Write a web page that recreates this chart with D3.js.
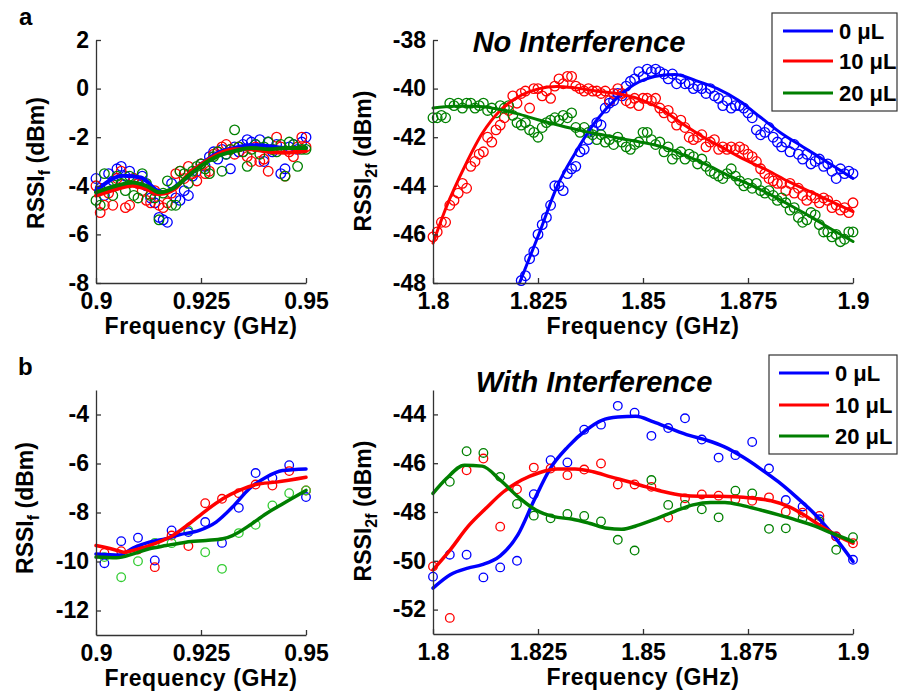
<!DOCTYPE html>
<html><head><meta charset="utf-8">
<script src="https://cdn.jsdelivr.net/npm/d3@7"></script>
<style>
body{margin:0;background:#fff}
svg text{font-family:"Liberation Sans",Arial,sans-serif;font-weight:bold;fill:#000}
</style>
</head><body><svg id="c" width="899" height="693"></svg>
<script>
// ---------- categories / labels ----------
const seriesNames = ["0 μL","10 μL","20 μL"];
const lineColors = ["#0000ff","#ff0000","#007f00"];

// ---------- tick labels ----------
const ticksXf  = [0.9, 0.925, 0.95];
const ticksX2f = [1.8, 1.825, 1.85, 1.875, 1.9];
const ticksYa1 = [2, 0, -2, -4, -6, -8];
const ticksYa2 = [-38, -40, -42, -44, -46, -48];
const ticksYb1 = [-4, -6, -8, -10, -12];
const ticksYb2 = [-44, -46, -48, -50, -52];

// ---------- panel a, left: RSSI_f, sweep 0.900..0.950 GHz, 1 MHz ----------
const sweepA1Start = 0.900, sweepA1Step = 0.001;
const a1Blue  = [-3.7,-4.1,-4.4,-3.5,-3.8,-3.3,-3.2,-3.6,-3.4,-3.7,-3.9,-3.6,-4.0,-4.5,-4.7,-5.3,-5.4,-5.5,-3.9,-4.5,-4.6,-4.2,-4.4,-3.6,-3.4,-3.1,-3.2,-2.8,-2.6,-2.9,-2.5,-2.7,-3.3,-2.4,-2.6,-2.3,-2.1,-2.2,-2.3,-2.1,-3.0,-2.2,-2.6,-2.3,-3.5,-3.3,-2.4,-2.3,-2.5,-2.2,-2.0];
const a1Red   = [-4.0,-5.1,-4.8,-4.3,-4.8,-3.7,-3.4,-4.9,-4.8,-3.7,-3.9,-4.2,-4.6,-4.7,-4.2,-4.8,-4.9,-4.7,-4.3,-3.5,-3.4,-3.7,-3.2,-3.5,-3.8,-3.1,-3.5,-3.4,-2.7,-2.6,-2.4,-2.3,-2.5,-2.7,-2.4,-2.6,-2.8,-3.0,-2.4,-3.0,-2.9,-3.4,-2.5,-2.0,-2.4,-3.6,-2.6,-2.8,-2.4,-2.0,-2.4];
const a1Green = [-4.6,-4.8,-3.5,-4.0,-4.4,-3.6,-3.9,-4.2,-3.6,-4.4,-4.5,-3.5,-3.9,-4.4,-4.5,-5.4,-4.3,-3.8,-4.8,-4.8,-3.4,-3.5,-3.9,-3.4,-3.2,-3.1,-3.3,-3.5,-2.8,-2.6,-3.4,-2.7,-2.5,-1.7,-2.4,-2.6,-3.2,-2.5,-2.3,-2.7,-2.4,-2.2,-2.5,-2.6,-2.3,-3.6,-2.2,-2.3,-3.2,-2.5,-2.5];
// fitted curves (knots)
const a1FitBlueF  = [0.9,0.9065,0.9107,0.9147,0.9163,0.9202,0.925,0.929,0.933,0.937,0.9413,0.9452,0.95];
const a1FitBlue   = [-4.2,-3.59,-3.66,-4.2,-4.27,-3.86,-3.12,-2.64,-2.44,-2.33,-2.37,-2.44,-2.44];
const a1FitRedF   = [0.9,0.9048,0.9087,0.912,0.9152,0.9187,0.922,0.925,0.929,0.933,0.937,0.9413,0.9452,0.95];
const a1FitRed    = [-4.4,-4.14,-4.0,-4.14,-4.34,-4.14,-3.52,-3.12,-2.7,-2.5,-2.5,-2.61,-2.64,-2.57];
const a1FitGreenF = [0.9,0.9048,0.9087,0.912,0.9152,0.9187,0.922,0.925,0.929,0.933,0.937,0.9413,0.9452,0.95];
const a1FitGreen  = [-4.27,-4.0,-3.86,-4.0,-4.27,-4.07,-3.59,-3.18,-2.78,-2.57,-2.44,-2.5,-2.44,-2.44];

// ---------- panel a, right: RSSI_2f, sweep 1.800..1.900 GHz, 1 MHz ----------
const sweepA2Start = 1.800, sweepA2Step = 0.001;
const a2BlueStartIndex = 21; // blue points visible from 1.821 GHz
const a2Blue = [-47.9,-47.7,-47.0,-46.7,-46.0,-45.6,-45.3,-44.8,-44.0,-44.0,-44.2,-43.5,-43.3,-43.2,-42.6,-42.5,-42.1,-41.7,-41.4,-41.5,-40.8,-40.6,-40.5,-40.2,-40.3,-39.9,-39.7,-39.6,-39.3,-39.5,-39.2,-39.3,-39.2,-39.3,-39.4,-39.6,-39.4,-39.8,-39.6,-39.8,-39.8,-40.0,-39.9,-40.0,-40.2,-40.0,-40.3,-40.4,-40.7,-40.5,-40.8,-40.7,-40.7,-40.8,-41.0,-41.2,-41.7,-41.9,-41.8,-41.6,-42.0,-42.2,-42.4,-42.2,-42.6,-42.3,-42.7,-42.9,-42.7,-43.1,-43.0,-42.9,-43.2,-43.1,-43.4,-43.7,-43.3,-43.5,-43.4,-43.5];
const a2Red = [-46.1,-45.9,-45.5,-45.5,-44.8,-44.6,-44.3,-43.9,-44.1,-43.2,-43.0,-42.7,-42.6,-42.0,-42.2,-41.7,-41.5,-41.2,-40.9,-40.3,-40.6,-40.2,-40.1,-40.8,-40.0,-40.0,-40.3,-40.1,-40.4,-39.9,-39.6,-39.8,-39.5,-39.5,-39.9,-40.0,-40.1,-40.0,-40.1,-40.1,-40.2,-40.1,-40.5,-40.2,-40.0,-40.2,-40.5,-40.6,-40.4,-40.7,-40.4,-40.4,-40.5,-40.4,-40.8,-41.0,-40.9,-41.2,-41.5,-41.3,-41.6,-42.0,-42.1,-42.0,-41.9,-42.4,-42.2,-42.1,-42.5,-42.4,-42.5,-42.4,-42.5,-42.4,-42.5,-42.7,-42.8,-43.0,-43.3,-43.5,-43.7,-43.8,-43.9,-43.9,-44.2,-43.9,-44.3,-44.1,-44.4,-44.6,-44.4,-44.5,-44.7,-44.5,-44.6,-44.9,-44.8,-45.0,-44.9,-45.1,-44.7];
const a2Green = [-41.2,-41.2,-41.1,-41.2,-40.6,-40.7,-40.6,-40.8,-40.6,-40.6,-40.8,-40.7,-40.6,-40.9,-40.8,-41.0,-40.7,-40.8,-40.7,-41.1,-41.4,-41.5,-41.4,-41.7,-41.8,-42.0,-41.6,-41.4,-41.3,-41.2,-41.3,-41.1,-41.2,-41.0,-41.6,-41.8,-41.6,-41.8,-41.9,-42.1,-41.9,-42.2,-42.1,-42.3,-42.0,-42.2,-42.4,-42.5,-42.3,-42.2,-41.8,-41.8,-42.1,-42.3,-42.2,-42.6,-42.4,-42.9,-42.7,-42.6,-42.9,-42.7,-42.8,-43.1,-42.9,-43.2,-43.4,-43.5,-43.6,-43.7,-43.5,-43.3,-43.6,-43.8,-44.0,-43.9,-44.1,-43.9,-44.2,-44.3,-44.2,-44.4,-44.6,-44.5,-44.7,-45.0,-44.9,-45.3,-45.5,-45.4,-45.1,-45.2,-45.6,-45.9,-45.9,-46.1,-46.0,-46.3,-46.2,-45.9,-45.9];
const a2FitBlueF  = [1.8206,1.8253,1.8295,1.8338,1.8389,1.844,1.849,1.8542,1.8576,1.8626,1.8677,1.8728,1.8779,1.883,1.8881,1.8932,1.9];
const a2FitBlue   = [-48.0,-45.95,-44.04,-42.67,-41.31,-40.35,-39.73,-39.46,-39.42,-39.67,-40.0,-40.49,-41.17,-41.85,-42.4,-42.95,-43.7];
const a2FitRedF   = [1.8,1.8032,1.8075,1.8117,1.816,1.8202,1.8253,1.8295,1.8338,1.8389,1.844,1.849,1.8542,1.8593,1.8643,1.8694,1.8745,1.8796,1.8847,1.8898,1.8949,1.9];
const a2FitRed    = [-46.36,-44.86,-43.22,-41.85,-40.9,-40.35,-40.0,-39.91,-39.97,-40.1,-40.21,-40.42,-40.83,-41.44,-41.99,-42.47,-42.95,-43.36,-43.83,-44.24,-44.65,-45.06];
const a2FitGreenF = [1.8,1.805,1.81,1.815,1.82,1.825,1.83,1.835,1.84,1.845,1.85,1.855,1.86,1.865,1.87,1.875,1.88,1.885,1.89,1.895,1.9];
const a2FitGreen  = [-40.8,-40.73,-40.73,-40.83,-41.03,-41.28,-41.51,-41.72,-41.89,-42.06,-42.22,-42.42,-42.75,-43.12,-43.55,-43.92,-44.33,-44.8,-45.28,-45.8,-46.29];

// ---------- panel b, left: RSSI_f, sweep 0.902..0.950 GHz, 4 MHz ----------
const sweepB1Start = 0.902, sweepB1Step = 0.004;
const b1Blue  = [-10.07,-9.17,-9.03,-9.96,-8.73,-8.8,-8.39,-9.24,-7.81,-6.39,-6.59,-6.07,-7.37];
const b1Red   = [-9.65,-9.58,-9.51,-10.23,-8.94,-9.37,-7.62,-7.44,-7.21,-6.86,-6.9,-6.31,-7.1];
const b1Green = [-9.82,-10.64,-9.99,-9.24,-9.25,-8.73,-9.62,-10.3,-8.84,-8.5,-7.71,-7.21,-7.1];
const b1FitBlueF  = [0.9,0.9057,0.9089,0.9127,0.9167,0.9198,0.9246,0.9286,0.9325,0.9365,0.9405,0.9444,0.95];
const b1FitBlue   = [-9.69,-9.73,-9.44,-9.21,-9.07,-8.91,-8.73,-8.39,-7.78,-7.03,-6.56,-6.29,-6.22];
const b1FitRedF   = [0.9,0.9057,0.9065,0.9103,0.9143,0.9183,0.9222,0.9262,0.9302,0.9341,0.9381,0.9429,0.95];
const b1FitRed    = [-9.35,-9.58,-9.62,-9.48,-9.25,-8.94,-8.46,-7.92,-7.44,-7.1,-6.86,-6.76,-6.56];
const b1FitGreenF = [0.9,0.9049,0.9089,0.9127,0.9167,0.9214,0.9262,0.9302,0.9325,0.9365,0.9405,0.9444,0.95];
const b1FitGreen  = [-9.82,-9.85,-9.69,-9.48,-9.35,-9.21,-9.14,-9.07,-8.94,-8.53,-8.05,-7.65,-7.1];

// ---------- panel b, right: RSSI_2f, sweep 1.800..1.900 GHz, 4 MHz ----------
const sweepB2Start = 1.800, sweepB2Step = 0.004;
const b2Blue  = [-50.65,-49.75,-49.75,-50.68,-50.27,-50.0,-47.27,-45.88,-45.97,-44.63,-44.42,-43.65,-43.93,-44.88,-44.56,-44.16,-45.03,-45.77,-45.67,-45.13,-46.22,-47.51,-47.78,-48.3,-49.0,-49.96];
const b2Red   = [-50.23,-52.34,-46.29,-45.81,-48.6,-47.07,-46.18,-46.22,-46.49,-46.26,-46.01,-46.87,-46.87,-46.97,-48.23,-47.44,-47.28,-47.33,-47.48,-47.54,-47.4,-47.99,-48.03,-48.16,-49.0,-49.28];
const b2GreenStartIndex = 1;
const b2Green = [-46.76,-45.51,-45.58,-46.56,-47.67,-48.15,-48.26,-48.08,-48.16,-48.39,-49.14,-49.58,-46.69,-47.71,-47.71,-47.89,-48.22,-47.13,-47.24,-48.69,-48.67,-48.26,-48.39,-49.55,-49.03];
const b2FitBlueF  = [1.8,1.8041,1.8083,1.8117,1.816,1.8202,1.8241,1.8279,1.8321,1.8364,1.8402,1.844,1.8483,1.8525,1.8567,1.861,1.8652,1.8694,1.8737,1.8779,1.8822,1.8864,1.8907,1.8949,1.9];
const b2FitBlue   = [-51.12,-50.57,-50.3,-50.16,-49.8,-48.94,-47.51,-46.22,-45.33,-44.65,-44.24,-44.11,-44.08,-44.31,-44.59,-44.86,-45.06,-45.33,-45.74,-46.22,-46.76,-47.37,-48.05,-48.87,-50.03];
const b2FitRedF   = [1.8,1.8041,1.8083,1.8126,1.8168,1.8211,1.8253,1.8296,1.8338,1.8381,1.8423,1.8466,1.8508,1.8550,1.8593,1.8635,1.8678,1.872,1.8763,1.8805,1.8847,1.889,1.8932,1.8966,1.9];
const b2FitRed    = [-50.37,-49.55,-48.6,-47.85,-47.17,-46.69,-46.39,-46.24,-46.24,-46.35,-46.56,-46.76,-46.97,-47.17,-47.31,-47.35,-47.35,-47.37,-47.44,-47.54,-47.78,-48.19,-48.67,-49.0,-49.28];
const b2FitGreenF = [1.8,1.8032,1.8075,1.8117,1.816,1.8202,1.8245,1.8287,1.833,1.8372,1.8415,1.8449,1.8491,1.8534,1.8577,1.8619,1.8661,1.8695,1.8738,1.878,1.8823,1.8865,1.8908,1.8950,1.9];
const b2FitGreen  = [-47.24,-46.63,-46.08,-46.12,-46.69,-47.37,-47.92,-48.19,-48.29,-48.46,-48.67,-48.71,-48.53,-48.26,-47.96,-47.71,-47.61,-47.61,-47.74,-47.92,-48.12,-48.33,-48.57,-48.87,-49.21];

// ---------- drawing ----------
const svg = d3.select("#c");
const FONT = 23;

function pts(start, step, vals, offset) {
  offset = offset || 0;
  return vals.map((v, i) => ({f: start + step * (i + offset), v}));
}
function zipFit(fs, vs) { return fs.map((f, i) => ({f, v: vs[i]})); }

function panel(cfg) {
  const x = d3.scaleLinear().domain(cfg.xd).range([cfg.x0, cfg.x1]);
  const y = d3.scaleLinear().domain(cfg.yd).range([cfg.y1, cfg.y0]);
  const g = svg.append("g");

  cfg.scatter.forEach(s => {
    g.append("g").selectAll("circle").data(s.data).join("circle")
      .attr("cx", d => x(d.f)).attr("cy", d => y(d.v)).attr("r", cfg.r)
      .attr("fill", "none").attr("stroke", s.color).attr("stroke-width", 1.3);
  });
  const line = d3.line().x(d => x(d.f)).y(d => y(d.v)).curve(d3.curveMonotoneX);
  cfg.fits.forEach(s => {
    g.append("path").datum(s.data).attr("d", line)
      .attr("fill", "none").attr("stroke", s.color).attr("stroke-width", cfg.lw)
      .attr("stroke-linejoin", "round").attr("stroke-linecap", "round");
  });

  const ax = g.append("g").attr("transform", `translate(0,${cfg.y1})`)
    .call(d3.axisBottom(x).tickValues(cfg.xt).tickFormat(d => String(d))
      .tickSizeInner(-5).tickSizeOuter(0).tickPadding(10));
  const ay = g.append("g").attr("transform", `translate(${cfg.x0},0)`)
    .call(d3.axisLeft(y).tickValues(cfg.yt).tickFormat(d => (d < 0 ? "-" : "") + Math.abs(d))
      .tickSizeInner(-5).tickSizeOuter(0).tickPadding(7));
  [ax, ay].forEach(a => {
    a.select(".domain").attr("stroke", "#333").attr("stroke-width", 1.3);
    a.selectAll(".tick line").attr("stroke", "#333").attr("stroke-width", 1.3);
    a.selectAll(".tick text").attr("font-size", FONT).attr("font-weight", "bold")
      .attr("font-family", '"Liberation Sans",Arial,sans-serif').attr("fill", "#000");
  });

  g.append("text").attr("x", (cfg.x0 + cfg.x1) / 2).attr("y", cfg.y1 + 51)
    .attr("text-anchor", "middle").attr("font-size", 23).attr("letter-spacing", 0.6)
    .text("Frequency (GHz)");
  const yl = g.append("text").attr("transform", `translate(${cfg.ylx},${cfg.yly}) rotate(-90)`)
    .attr("text-anchor", "middle").attr("font-size", 23);
  yl.append("tspan").text("RSSI");
  yl.append("tspan").attr("font-size", 16).attr("dy", 6).text(cfg.sub);
  yl.append("tspan").attr("dy", -6).text(" (dBm)");

  if (cfg.title) {
    g.append("text").attr("x", cfg.title.x).attr("y", cfg.title.y)
      .attr("text-anchor", "middle").attr("font-size", 29).attr("font-style", "italic")
      .text(cfg.title.text);
  }
  if (cfg.legend) {
    const L = cfg.legend;
    g.append("rect").attr("x", L.x).attr("y", L.y).attr("width", L.w).attr("height", L.h)
      .attr("fill", "#fff").attr("stroke", "#333").attr("stroke-width", 1.2);
    seriesNames.forEach((n, i) => {
      const yy = L.ys[i];
      g.append("line").attr("x1", L.lx0).attr("x2", L.lx1).attr("y1", yy).attr("y2", yy)
        .attr("stroke", lineColors[i]).attr("stroke-width", 3);
      g.append("text").attr("x", L.tx).attr("y", yy + 8).attr("font-size", 22).text(n);
    });
  }
}

panel({
  x0: 96, x1: 306, y0: 40, y1: 283, xd: [0.9, 0.95], yd: [-8, 2],
  xt: ticksXf, yt: ticksYa1, r: 4.8, lw: 4,
  ylx: 44, yly: 163, sub: "f",
  scatter: [
    {data: pts(sweepA1Start, sweepA1Step, a1Blue), color: "#0000ff"},
    {data: pts(sweepA1Start, sweepA1Step, a1Red), color: "#ff0000"},
    {data: pts(sweepA1Start, sweepA1Step, a1Green), color: "#008000"}
  ],
  fits: [
    {data: zipFit(a1FitBlueF, a1FitBlue), color: lineColors[0]},
    {data: zipFit(a1FitRedF, a1FitRed), color: lineColors[1]},
    {data: zipFit(a1FitGreenF, a1FitGreen), color: lineColors[2]}
  ]
});

panel({
  x0: 433, x1: 853, y0: 40, y1: 283, xd: [1.8, 1.9], yd: [-48, -38],
  xt: ticksX2f, yt: ticksYa2, r: 4.8, lw: 3,
  ylx: 371, yly: 161, sub: "2f",
  title: {text: "No Interference", x: 579, y: 52},
  legend: {x: 772, y: 13, w: 125, h: 98, ys: [31, 61, 93], lx0: 783, lx1: 833, tx: 839},
  scatter: [
    {data: pts(sweepA2Start, sweepA2Step, a2Blue, a2BlueStartIndex), color: "#0000ff"},
    {data: pts(sweepA2Start, sweepA2Step, a2Red), color: "#ff0000"},
    {data: pts(sweepA2Start, sweepA2Step, a2Green), color: "#008000"}
  ],
  fits: [
    {data: zipFit(a2FitBlueF, a2FitBlue), color: lineColors[0]},
    {data: zipFit(a2FitRedF, a2FitRed), color: lineColors[1]},
    {data: zipFit(a2FitGreenF, a2FitGreen), color: lineColors[2]}
  ]
});

panel({
  x0: 96, x1: 306, y0: 390, y1: 635, xd: [0.9, 0.95], yd: [-13, -3],
  xt: ticksXf, yt: ticksYb1, r: 4.3, lw: 3.5,
  ylx: 33, yly: 508, sub: "f",
  scatter: [
    {data: pts(sweepB1Start, sweepB1Step, b1Blue), color: "#0000ff"},
    {data: pts(sweepB1Start, sweepB1Step, b1Red), color: "#ff0000"},
    {data: pts(sweepB1Start, sweepB1Step, b1Green), color: "#33cc33"}
  ],
  fits: [
    {data: zipFit(b1FitBlueF, b1FitBlue), color: lineColors[0]},
    {data: zipFit(b1FitRedF, b1FitRed), color: lineColors[1]},
    {data: zipFit(b1FitGreenF, b1FitGreen), color: lineColors[2]}
  ]
});

panel({
  x0: 433, x1: 853, y0: 390, y1: 634, xd: [1.8, 1.9], yd: [-53, -43],
  xt: ticksX2f, yt: ticksYb2, r: 4.3, lw: 3.5,
  ylx: 371, yly: 511, sub: "2f",
  title: {text: "With Interference", x: 594, y: 392},
  legend: {x: 769, y: 355, w: 128, h: 99, ys: [373, 405, 436], lx0: 779, lx1: 829, tx: 835},
  scatter: [
    {data: pts(sweepB2Start, sweepB2Step, b2Blue), color: "#0000ff"},
    {data: pts(sweepB2Start, sweepB2Step, b2Red), color: "#ff0000"},
    {data: pts(sweepB2Start, sweepB2Step, b2Green, b2GreenStartIndex), color: "#008000"}
  ],
  fits: [
    {data: zipFit(b2FitBlueF, b2FitBlue), color: lineColors[0]},
    {data: zipFit(b2FitRedF, b2FitRed), color: lineColors[1]},
    {data: zipFit(b2FitGreenF, b2FitGreen), color: lineColors[2]}
  ]
});

svg.append("text").attr("x", 19).attr("y", 25).attr("font-size", 24).text("a");
svg.append("text").attr("x", 18).attr("y", 375).attr("font-size", 24).text("b");
</script>
</body></html>
